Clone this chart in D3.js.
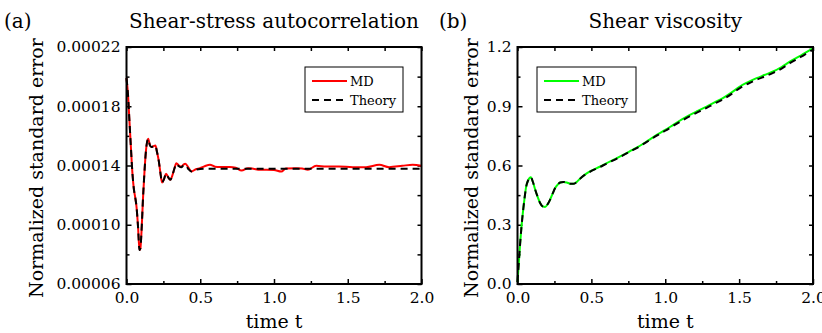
<!DOCTYPE html>
<html><head><meta charset="utf-8">
<script src="https://cdn.jsdelivr.net/npm/d3@7"></script>
<style>
body{margin:0;background:#fff;}
text{font-family:"DejaVu Serif",serif;fill:#000;}
</style></head>
<body><svg id="c" width="822" height="333"></svg>
<script>
// ---------- data ----------
const timeA = [0,0.01,0.02,0.03,0.04,0.05,0.06,0.068,0.078,0.088,0.094,0.102,0.112,0.122,0.132,0.147,0.158,0.169,0.182,0.196,0.207,0.219,0.23,0.241,0.255,0.268,0.283,0.297,0.31,0.325,0.338,0.355,0.372,0.385,0.399,0.42,0.44,0.47,0.498,0.53,0.566,0.6,0.633,0.7,0.74,0.78,0.824,0.86,0.904,0.95,1.0,1.05,1.08,1.15,1.19,1.23,1.286,1.354,1.44,1.534,1.624,1.714,1.78,1.87,1.94,2.0];
const mdA = [19.9,18.8,17.0,15.2,13.5,12.4,11.8,11.2,9.9,8.3,8.4,9.6,11.8,13.6,15.0,15.8,15.4,15.25,15.3,15.35,14.9,14.3,13.5,12.85,13.1,13.45,13.2,13.03,13.3,13.8,14.16,14.0,13.93,14.05,14.12,13.85,13.59,13.75,13.82,13.95,14.05,13.92,13.9,13.9,13.85,13.66,13.82,13.78,13.71,13.72,13.7,13.59,13.8,13.82,13.8,13.71,13.98,13.93,13.93,13.89,13.89,14.05,13.89,13.98,14.05,13.98].map(v => v * 1e-5);
const timeATheory = [0,0.01,0.02,0.03,0.04,0.05,0.06,0.068,0.078,0.088,0.094,0.102,0.112,0.122,0.132,0.147,0.158,0.169,0.182,0.196,0.207,0.219,0.23,0.241,0.255,0.268,0.283,0.297,0.31,0.325,0.338,0.355,0.372,0.385,0.399,0.42,0.44,0.47,0.5,0.55,0.7,1.0,1.5,2.0];
const theoryA = [19.9,18.8,17.0,15.2,13.5,12.4,11.8,11.2,9.9,8.3,8.4,9.6,11.8,13.6,15.0,15.8,15.4,15.25,15.3,15.35,14.9,14.3,13.5,12.85,13.1,13.45,13.2,13.03,13.3,13.8,14.12,13.95,13.88,14.0,14.05,13.75,13.6,13.72,13.77,13.78,13.78,13.78,13.78,13.78].map(v => v * 1e-5);

const timeB = [0,0.009,0.018,0.027,0.036,0.047,0.059,0.072,0.09,0.105,0.12,0.137,0.153,0.17,0.187,0.205,0.22,0.238,0.255,0.272,0.289,0.31,0.333,0.356,0.378,0.4,0.42,0.45,0.49,0.56,0.604,0.66,0.716,0.77,0.829,0.885,0.942,1.0,1.054,1.11,1.167,1.22,1.28,1.33,1.39,1.45,1.505,1.56,1.618,1.67,1.73,1.79,1.843,1.92,1.99,2.0];
const mdB = [0.01,0.11,0.207,0.29,0.359,0.43,0.494,0.525,0.541,0.515,0.477,0.44,0.41,0.393,0.39,0.405,0.426,0.458,0.486,0.503,0.514,0.517,0.514,0.508,0.507,0.516,0.531,0.55,0.57,0.595,0.612,0.632,0.654,0.676,0.70,0.727,0.755,0.78,0.806,0.832,0.856,0.876,0.898,0.918,0.941,0.97,1.0,1.022,1.042,1.058,1.076,1.1,1.126,1.158,1.189,1.193];
const theoryB = [0.01,0.11,0.207,0.29,0.359,0.43,0.494,0.525,0.541,0.515,0.477,0.44,0.41,0.393,0.39,0.405,0.426,0.458,0.486,0.503,0.514,0.517,0.514,0.508,0.507,0.516,0.531,0.55,0.568,0.593,0.61,0.63,0.652,0.674,0.698,0.724,0.751,0.776,0.801,0.826,0.85,0.87,0.892,0.912,0.935,0.963,0.992,1.014,1.034,1.05,1.069,1.092,1.118,1.151,1.182,1.186];

const xTicks = [0, 0.5, 1.0, 1.5, 2.0];
const xMinor = [0.25, 0.75, 1.25, 1.75];
const yTicksA = [0.00006, 0.00010, 0.00014, 0.00018, 0.00022];
const yMinorA = [0.00008, 0.00012, 0.00016, 0.00020];
const yTicksB = [0.0, 0.3, 0.6, 0.9, 1.2];
const yMinorB = [0.15, 0.45, 0.75, 1.05];

const svg = d3.select("#c");

function panel(o) {
  const x = d3.scaleLinear().domain([0, 2]).range([o.left, o.right]);
  const y = d3.scaleLinear().domain(o.yDomain).range([o.bottom, o.top]);
  const g = svg.append("g");

  const styleAxis = sel => {
    sel.select(".domain").remove();
    sel.selectAll("line").attr("stroke", "#000").attr("stroke-width", 1.5);
    sel.selectAll("text").style("font-size", "15.5px").attr("fill", "#000");
  };
  g.append("g").attr("transform", `translate(0,${o.bottom})`)
    .call(d3.axisBottom(x).tickValues(xTicks).tickFormat(d3.format(".1f")).tickSizeInner(-5).tickSizeOuter(0).tickPadding(8)).call(styleAxis);
  g.append("g").attr("transform", `translate(0,${o.bottom})`)
    .call(d3.axisBottom(x).tickValues(xMinor).tickFormat("").tickSizeInner(-3).tickSizeOuter(0)).call(styleAxis);
  g.append("g").attr("transform", `translate(0,${o.top})`)
    .call(d3.axisTop(x).tickValues(xTicks.concat(xMinor)).tickFormat("").tickSizeInner(-4).tickSizeOuter(0)).call(styleAxis);
  g.append("g").attr("transform", `translate(${o.left},0)`)
    .call(d3.axisLeft(y).tickValues(o.yTicks).tickFormat(o.yFmt).tickSizeInner(-5).tickSizeOuter(0).tickPadding(6)).call(styleAxis);
  g.append("g").attr("transform", `translate(${o.left},0)`)
    .call(d3.axisLeft(y).tickValues(o.yMinor).tickFormat("").tickSizeInner(-3).tickSizeOuter(0)).call(styleAxis);
  g.append("g").attr("transform", `translate(${o.right},0)`)
    .call(d3.axisRight(y).tickValues(o.yTicks.concat(o.yMinor)).tickFormat("").tickSizeInner(-4).tickSizeOuter(0)).call(styleAxis);

  const line = (xs, ys) => d3.line().curve(d3.curveMonotoneX)
    .x((d, i) => x(xs[i])).y(d => y(d))(ys);

  g.append("path").attr("d", line(o.tMd, o.md)).attr("fill", "none")
    .attr("stroke", o.color).attr("stroke-width", 2);
  g.append("path").attr("d", line(o.tTh, o.th)).attr("fill", "none")
    .attr("stroke", "#000").attr("stroke-width", 2).attr("stroke-dasharray", "7,5");

  g.append("rect").attr("x", o.left).attr("y", o.top)
    .attr("width", o.right - o.left).attr("height", o.bottom - o.top)
    .attr("fill", "none").attr("stroke", "#000").attr("stroke-width", 2);

  g.append("text").attr("x", (o.left + o.right) / 2).attr("y", 28)
    .attr("text-anchor", "middle").style("font-size", "20px").text(o.title);
  g.append("text").attr("x", o.tagX).attr("y", 28).style("font-size", "20px").text(o.tag);
  g.append("text").attr("x", (o.left + o.right) / 2).attr("y", 328)
    .attr("text-anchor", "middle").style("font-size", "19px").text("time t");
  g.append("text").attr("transform", `translate(${o.yLabX},168) rotate(-90)`)
    .attr("text-anchor", "middle").style("font-size", "19px").text("Normalized standard error");

  const L = o.legend;
  g.append("rect").attr("x", L.x).attr("y", L.y).attr("width", L.w).attr("height", L.h)
    .attr("fill", "#fff").attr("stroke", "#000").attr("stroke-width", 1);
  g.append("line").attr("x1", L.x + 7).attr("x2", L.x + 42).attr("y1", L.y + 14).attr("y2", L.y + 14)
    .attr("stroke", o.color).attr("stroke-width", 2);
  g.append("line").attr("x1", L.x + 7).attr("x2", L.x + 42).attr("y1", L.y + 33).attr("y2", L.y + 33)
    .attr("stroke", "#000").attr("stroke-width", 2).attr("stroke-dasharray", "7,5");
  g.append("text").attr("x", L.x + 45).attr("y", L.y + 19).style("font-size", "13px").text("MD");
  g.append("text").attr("x", L.x + 45).attr("y", L.y + 38).style("font-size", "13px").text("Theory");
}

panel({
  left: 126.5, right: 421.5, top: 47, bottom: 284,
  yDomain: [0.00006, 0.00022], yTicks: yTicksA, yMinor: yMinorA, yFmt: d3.format(".5f"),
  tMd: timeA, md: mdA, tTh: timeATheory, th: theoryA, color: "#ff0000",
  title: "Shear-stress autocorrelation", tag: "(a)", tagX: 4, yLabX: 43,
  legend: {x: 305, y: 67, w: 98, h: 45}
});
panel({
  left: 517.5, right: 813, top: 47, bottom: 284,
  yDomain: [0, 1.2], yTicks: yTicksB, yMinor: yMinorB, yFmt: d3.format(".1f"),
  tMd: timeB, md: mdB, tTh: timeB, th: theoryB, color: "#00ff00",
  title: "Shear viscosity", tag: "(b)", tagX: 439, yLabX: 478,
  legend: {x: 537, y: 67, w: 99, h: 45}
});
</script></body></html>
